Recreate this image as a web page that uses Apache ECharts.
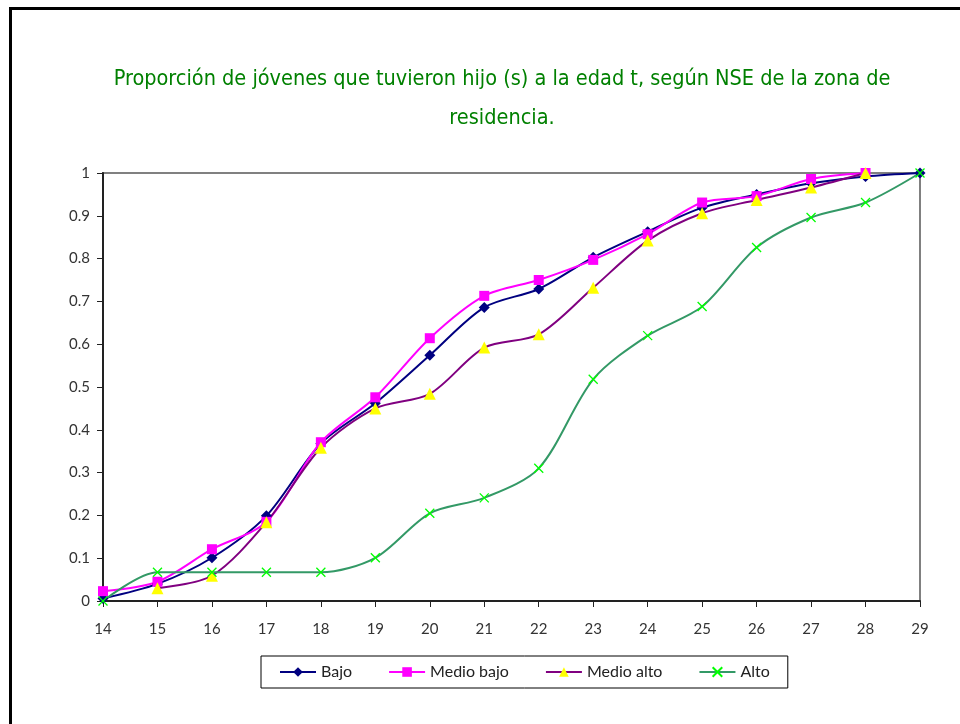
<!DOCTYPE html>
<html>
<head>
<meta charset="utf-8">
<script src="https://cdn.jsdelivr.net/npm/echarts@6/dist/echarts.min.js"></script>
<style>
html,body{margin:0;padding:0;background:#fff;}
#frame{position:absolute;left:9px;top:7px;width:960px;height:730px;border-top:3px solid #000;border-left:3px solid #000;}
#chart{position:absolute;left:0;top:0;width:960px;height:724px;}
</style>
</head>
<body>
<div id="frame"></div>
<div id="chart"></div>
<script>
const titleText = 'Proporción de jóvenes que tuvieron hijo (s) a la edad t, según NSE de la zona de\nresidencia.';
const ages = ['14','15','16','17','18','19','20','21','22','23','24','25','26','27','28','29'];
const seriesNames = ['Bajo','Medio bajo','Medio alto','Alto'];
const bajo =      [0.006, 0.040, 0.101, 0.199, 0.368, 0.462, 0.574, 0.686, 0.729, 0.803, 0.863, 0.919, 0.950, 0.976, 0.992, 1.0];
const medioBajo = [0.023, 0.045, 0.121, 0.185, 0.371, 0.476, 0.614, 0.713, 0.750, 0.797, 0.857, 0.931, 0.946, 0.986, 1.0, null];
const medioAlto = [null, 0.030, 0.059, 0.184, 0.358, 0.450, 0.484, 0.592, 0.623, 0.732, 0.842, 0.906, 0.937, 0.966, 1.0, null];
const alto =      [0.0, 0.067, 0.067, 0.067, 0.067, 0.101, 0.205, 0.241, 0.310, 0.518, 0.620, 0.688, 0.826, 0.896, 0.931, 1.0];

const chart = echarts.init(document.getElementById('chart'), null, {renderer:'canvas'});
const labelFont = 'Lato, "Open Sans", sans-serif';
const crossPath = 'path://M0,0L10,10M10,0L0,10';

function mkSeries(name, data, lineColor, symbol, symColor, symSize, extra) {
  return Object.assign({
    name: name,
    type: 'line',
    data: data,
    smooth: 0.3,
    symbol: symbol,
    symbolSize: symSize,
    showAllSymbol: true,
    connectNulls: false,
    lineStyle: {color: lineColor, width: 2},
    itemStyle: {color: symColor, borderColor: symColor, borderWidth: 0},
    emphasis: {disabled: true},
    z: 3
  }, extra || {});
}

chart.setOption({
  animation: false,
  backgroundColor: 'transparent',
  title: {
    text: titleText,
    left: 497,
    top: 55,
    textAlign: 'center',
    textStyle: {
      color: '#008000',
      fontFamily: '"DejaVu Sans Condensed", "Liberation Sans Narrow", sans-serif',
      fontSize: 21.5,
      fontWeight: 'normal',
      lineHeight: 39
    }
  },
  grid: {
    left: 103, right: 40, top: 173, bottom: 123,
    show: true, borderColor: '#808080', borderWidth: 2, backgroundColor: '#fff'
  },
  legend: {
    data: seriesNames,
    left: 261, top: 656, width: 525, height: 31,
    padding: [8, 18, 8, 18],
    itemGap: 36,
    itemWidth: 36, itemHeight: 12,
    borderColor: '#000', borderWidth: 1,
    textStyle: {fontFamily: labelFont, fontSize: 16, color: '#222'}
  },
  xAxis: {
    type: 'category',
    data: ages,
    boundaryGap: false,
    axisLine: {lineStyle: {color: '#222', width: 2}},
    axisTick: {show: true, length: 6, lineStyle: {color: '#222'}},
    axisLabel: {fontFamily: labelFont, fontSize: 15, color: '#333', margin: 21},
    splitLine: {show: false}
  },
  yAxis: {
    type: 'value',
    min: 0, max: 1, interval: 0.1,
    axisLine: {show: true, lineStyle: {color: '#222', width: 2}},
    axisTick: {show: true, length: 6, lineStyle: {color: '#222'}},
    axisLabel: {fontFamily: labelFont, fontSize: 15, color: '#333', margin: 13,
      formatter: v => String(Math.round(v * 10) / 10)},
    splitLine: {show: false}
  },
  series: [
    mkSeries('Bajo', bajo, '#000080', 'diamond', '#000080', 11),
    mkSeries('Medio bajo', medioBajo, '#FF00FF', 'rect', '#FF00FF', 10),
    mkSeries('Medio alto', medioAlto, '#800080', 'triangle', '#FFFF00', 12),
    mkSeries('Alto', alto, '#339966', crossPath, '#00FF00', 9,
      {itemStyle: {color: 'rgba(0,0,0,0)', borderColor: '#00FF00', borderWidth: 1.3}})
  ]
});
</script>
</body>
</html>
